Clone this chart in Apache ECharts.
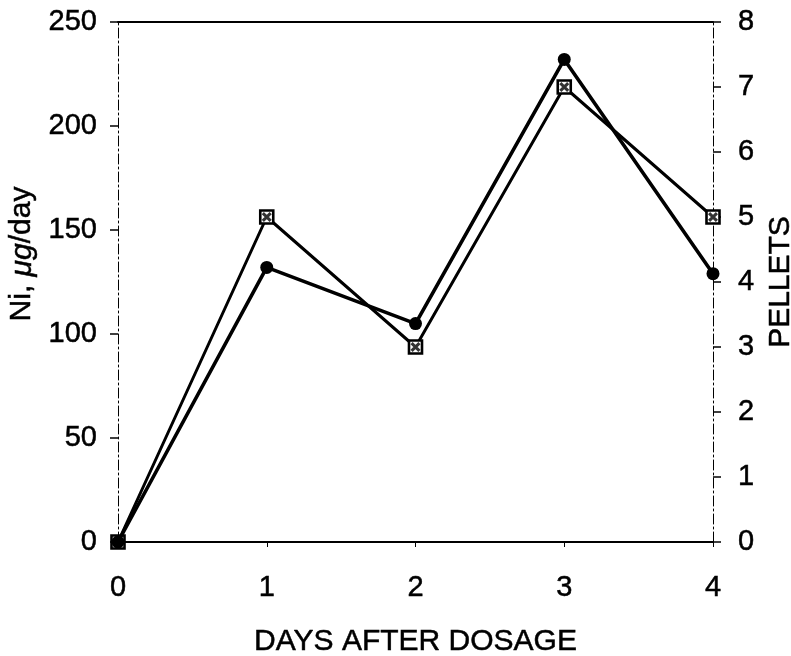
<!DOCTYPE html>
<html>
<head>
<meta charset="utf-8">
<script src="https://cdn.jsdelivr.net/npm/echarts@6/dist/echarts.min.js"></script>
<style>
  html, body { margin: 0; padding: 0; background: #fff; }
  #chart { width: 791px; height: 656px; }
</style>
</head>
<body>
<div id="chart"></div>
<script>
// Days after dosage
const days = [0, 1, 2, 3, 4];
// Nickel excreted, µg/day (left axis, filled circles)
const nickel = [0, 132, 105, 232, 129];
// Pellets (right axis, crossed squares)
const pellets = [0, 5, 3, 7, 5];
// Tick labels
const leftTicks = [0, 50, 100, 150, 200, 250];
const rightTicks = [0, 1, 2, 3, 4, 5, 6, 7, 8];

const FONT = '"Liberation Sans", Arial, sans-serif';
const INK = '#000';
const heavy = { textBorderColor: INK, textBorderWidth: 0.5 };
const labelStyle = Object.assign({ color: INK, fontFamily: FONT, fontSize: 29 }, heavy);
const nameStyle = Object.assign({ color: INK, fontFamily: FONT, fontSize: 30 }, heavy);

// small diagonal cross drawn inside each pellet square
const xMark = 'path://M2.2,3.4L3.4,2.2L7.8,6.6L6.6,7.8Z M6.6,2.2L7.8,3.4L3.4,7.8L2.2,6.6Z';
const dashDot = [10, 3, 2, 3];

const chart = echarts.init(document.getElementById('chart'));
chart.setOption({
  animation: false,
  backgroundColor: '#fff',
  grid: { left: 118, right: 78, top: 22, bottom: 114, containLabel: false, outerBoundsMode: 'none' },
  xAxis: [
    {
      type: 'value', min: 0, max: 4, interval: 1,
      name: 'DAYS AFTER DOSAGE', nameLocation: 'middle', nameGap: 85,
      nameTextStyle: nameStyle,
      axisLine: { show: true, onZero: false, lineStyle: { color: INK, width: 2 } },
      axisTick: { show: true, length: 5, lineStyle: { color: INK, width: 1 } },
      axisLabel: Object.assign({ margin: 31 }, labelStyle),
      splitLine: { show: false }
    },
    {
      type: 'value', min: 0, max: 4, position: 'top',
      axisLine: { show: true, onZero: false, lineStyle: { color: INK, width: 2 } },
      axisTick: { show: false }, axisLabel: { show: false },
      splitLine: { show: false }
    }
  ],
  yAxis: [
    {
      type: 'value', min: 0, max: 250, interval: 50, position: 'left',
      name: '{n|Ni, }{i|μg}{n|/day}', nameLocation: 'middle', nameGap: 72,
      nameTextStyle: {
        padding: [0, 0, 0, 56],
        rich: {
          n: nameStyle,
          i: Object.assign({ fontStyle: 'italic' }, nameStyle)
        }
      },
      axisLine: { show: true, onZero: false, lineStyle: { color: INK, width: 1, type: dashDot } },
      axisTick: { show: true, length: 8, lineStyle: { color: INK, width: 1.5 } },
      axisLabel: Object.assign({ margin: 21, formatter: v => leftTicks.includes(v) ? String(v) : '' }, labelStyle),
      splitLine: { show: false }
    },
    {
      type: 'value', min: 0, max: 8, interval: 1, position: 'right',
      name: 'PELLETS', nameLocation: 'middle', nameGap: 42,
      nameTextStyle: nameStyle,
      axisLine: { show: true, onZero: false, lineStyle: { color: INK, width: 1, type: dashDot } },
      axisTick: { show: true, length: 8, lineStyle: { color: INK, width: 1.5 } },
      axisLabel: Object.assign({ margin: 25, formatter: v => rightTicks.includes(v) ? String(v) : '' }, labelStyle),
      splitLine: { show: false }
    }
  ],
  series: [
    {
      name: 'Pellets', type: 'line', yAxisIndex: 1,
      data: days.map((d, i) => [d, pellets[i]]),
      symbol: 'rect', symbolSize: 13,
      itemStyle: { color: '#fff', borderColor: INK, borderWidth: 2.6 },
      lineStyle: { color: INK, width: 3 },
      z: 2
    },
    {
      name: 'Pellets marks', type: 'scatter', yAxisIndex: 1,
      data: days.map((d, i) => [d, pellets[i]]),
      symbol: xMark, symbolSize: 10,
      itemStyle: { color: INK },
      z: 3
    },
    {
      name: 'Ni', type: 'line', yAxisIndex: 0,
      data: days.map((d, i) => [d, nickel[i]]),
      symbol: 'circle', symbolSize: 13,
      itemStyle: { color: INK },
      lineStyle: { color: INK, width: 3.6 },
      z: 4
    }
  ]
});
</script>
</body>
</html>
